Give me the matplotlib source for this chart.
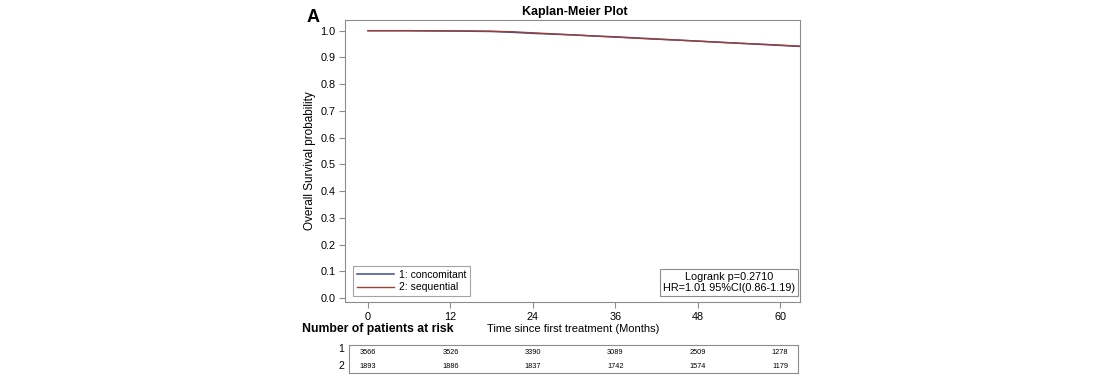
import matplotlib.pyplot as plt
import numpy as np

plt.rcParams['font.family'] = ['Liberation Sans', 'DejaVu Sans']

months = [0, 3, 6, 9, 12, 15, 18, 21, 24, 27, 30, 33, 36, 39, 42, 45, 48, 51, 54, 57, 60, 63]
surv_conc = [1.0, 1.0, 1.0, 0.999, 0.999, 0.998, 0.997, 0.994, 0.990, 0.987, 0.984, 0.980, 0.977,
             0.973, 0.969, 0.965, 0.961, 0.957, 0.953, 0.949, 0.945, 0.941]
surv_seq = [1.0, 1.0, 1.0, 1.0, 0.999, 0.999, 0.998, 0.996, 0.992, 0.988, 0.984, 0.980, 0.976,
            0.972, 0.968, 0.965, 0.961, 0.957, 0.953, 0.950, 0.946, 0.942]
risk_times = [0, 12, 24, 36, 48, 60]
risk_conc = [3566, 3526, 3390, 3089, 2509, 1278]
risk_seq = [1893, 1886, 1837, 1742, 1574, 1179]

W, H = 1100, 378
fig = plt.figure(figsize=(W / 100, H / 100), dpi=100)

def box(x0, y0, x1, y1):
    return [x0 / W, 1 - y1 / H, (x1 - x0) / W, (y1 - y0) / H]

gray = '#8c8c8c'
ax = fig.add_axes(box(345, 20, 800, 302))
ax.plot(months, surv_conc, color='#3f4d8e', lw=1.1, label='1: concomitant')
ax.plot(months, surv_seq, color='#9a3f3a', lw=1.0, label='2: sequential')
ax.set_xlim(-3.35, 62.9)
ax.set_ylim(-0.015, 1.04)
ax.set_xticks(risk_times)
ax.set_yticks(np.arange(0, 1.01, 0.1))
ax.set_yticklabels([f'{v:.1f}' for v in np.arange(0, 1.01, 0.1)])
ax.tick_params(labelsize=7.8, color=gray, length=4, width=0.8, pad=3)
ax.tick_params(axis='x', pad=3)
for s in ax.spines.values():
    s.set_color(gray)
ax.set_ylabel('Overall Survival probability', fontsize=8.5, labelpad=3)
fig.text(575 / W, 1 - 12 / H, 'Kaplan-Meier Plot', fontsize=9, fontweight='bold', ha='center', va='center')
leg = ax.legend(loc='lower left', fontsize=7.5, frameon=True, fancybox=False, handlelength=3.6,
                handletextpad=0.45, borderpad=0.35, labelspacing=0.25, borderaxespad=0,
                bbox_to_anchor=(8 / 455, 6 / 282))
leg.get_frame().set_edgecolor(gray)
leg.get_frame().set_linewidth(0.8)
ax.text(1 - 5 / 455, 9 / 282, 'Logrank p=0.2710\nHR=1.01 95%CI(0.86-1.19)', transform=ax.transAxes,
        ha='right', va='bottom', fontsize=7.8, multialignment='center', linespacing=1.15,
        bbox=dict(boxstyle='square,pad=0.3', fc='white', ec=gray, lw=0.8))

fig.text(307 / W, 1 - 17 / H, 'A', fontsize=13, fontweight='bold', ha='left', va='center')
fig.text(302 / W, 1 - 329 / H, 'Number of patients at risk', fontsize=8.8, fontweight='bold', ha='left', va='center')
fig.text(573 / W, 1 - 329 / H, 'Time since first treatment (Months)', fontsize=8, ha='center', va='center')

tab = fig.add_axes(box(349, 345, 798, 373))
tab.set_xlim(-3.35 + (349 - 345) / 6.867, 62.9 - 2 / 6.867)
tab.set_ylim(0, 2)
tab.set_xticks([])
tab.set_yticks([])
for s in tab.spines.values():
    s.set_color(gray)
for t, a, b in zip(risk_times, risk_conc, risk_seq):
    tab.text(t, 1.45, str(a), ha='center', va='center', fontsize=5.3)
    tab.text(t, 0.5, str(b), ha='center', va='center', fontsize=5.3)
fig.text(344 / W, 1 - 349 / H, '1', ha='right', va='center', fontsize=7.5)
fig.text(344 / W, 1 - 366 / H, '2', ha='right', va='center', fontsize=7.5)

fig.savefig('out.png', dpi=100)
